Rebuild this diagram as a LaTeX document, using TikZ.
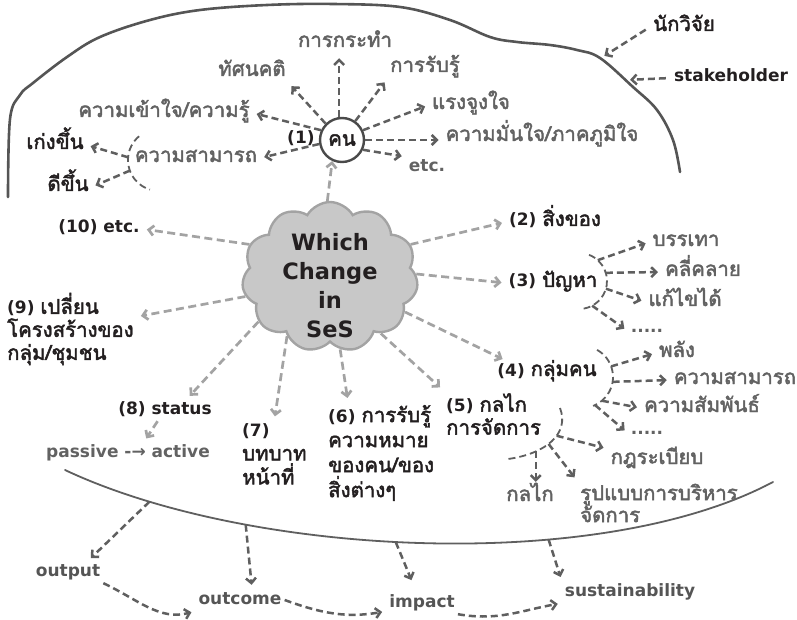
\documentclass[tikz,border=0pt]{standalone}
\usepackage{fontspec}
\setmainfont{DejaVu Sans}
\newfontfamily\thaifont[Script=Thai,Scale=1.2,AutoFakeBold=2.2]{Loma}
\newcommand{\thaitxt}[1]{{\thaifont #1}}
\usetikzlibrary{positioning,shapes.symbols,arrows.meta}
\definecolor{inkdark}{HTML}{231F20}
\definecolor{inkgrey}{HTML}{626262}
\definecolor{arrowdark}{HTML}{5F5F5F}
\definecolor{arrowlight}{HTML}{A3A3A3}
\definecolor{cloudfill}{HTML}{C8C8C8}
\definecolor{cloudedge}{HTML}{A3A3A3}
\definecolor{framegrey}{HTML}{555555}
\definecolor{ringgrey}{HTML}{4A4A4A}
\tikzset{
  word/.style={font=\bfseries\fontsize{17}{24}\selectfont, text=inkdark, inner sep=3pt, text height=12pt, text depth=4pt},
  greyword/.style={word, text=inkgrey},
  dotword/.style={greyword, text height=3pt, text depth=0pt},
  block/.style={font=\bfseries\fontsize{17}{24}\selectfont, text=inkdark, inner sep=3pt, align=left},
  cloudarrow/.style={draw=arrowlight, line width=2.7pt, dash pattern=on 8pt off 4.5pt, -{Straight Barb[length=5pt,width=10pt]}, shorten >=4pt},
  grouparrow/.style={draw=arrowdark, line width=2.5pt, dash pattern=on 7pt off 4pt, -{Straight Barb[length=5pt,width=10pt]}, shorten >=4pt},
  brace/.style={draw=arrowdark, line width=1.8pt, dash pattern=on 7pt off 4pt},
  frame/.style={draw=framegrey, line width=2.6pt, line cap=round},
}

\begin{document}
\begin{tikzpicture}[x=1pt,y=1pt]
\useasboundingbox (0,0) rectangle (797,619);

% outer boundary and the lower curve
\draw[frame] plot[smooth, tension=0.6] coordinates {(8,422) (10,500) (20,524) (33,536) (67,562) (100,582) (150,599) (200,609) (267,614) (333,615) (400,612) (450,599) (490,582) (517,577) (550,574) (577,569) (600,561) (633,532) (657,509) (673,479) (680,447)};
\coordinate (bnda) at (601,561);
\coordinate (bndb) at (626,539);
\draw[frame, line width=1.8pt, draw=arrowdark] (65,149) .. controls (250,62) and (600,45) .. coordinate[pos=0.137] (pout) coordinate[pos=0.272] (pcome) coordinate[pos=0.465] (pimp) coordinate[pos=0.66] (psus) (773,137);

% centre
\node[cloud, cloud puffs=11, cloud puff arc=120, cloud ignores aspect, draw=cloudedge, fill=cloudfill, line width=2.4pt, minimum width=176pt, minimum height=150pt, inner sep=0pt] (ses) at (330,342) {};
\node[font=\bfseries\fontsize{22.5}{29}\selectfont, text=inkdark, align=center] (sestext) at (330,333) {Which\\Change\\in\\SeS};

% (1) people
\node[circle, draw=ringgrey, fill=white, line width=2.4pt, minimum size=44pt, inner sep=0pt, font=\bfseries\fontsize{17}{24}\selectfont, text=inkdark] (kn) at (342,479) {\thaitxt{คน}};
\node[word, left=1pt of kn] (one) {(1)};
\node[greyword] (att) at (252,547) {\thaitxt{ทัศนคติ}};
\node[greyword] (act) at (345,576) {\thaitxt{การกระทำ}};
\node[greyword] (perc) at (425,551) {\thaitxt{การรับรู้}};
\node[greyword] (mot) at (471,514) {\thaitxt{แรงจูงใจ}};
\node[greyword] (conf) at (542,482) {\thaitxt{ความมั่นใจ/ภาคภูมิใจ}};
\node[greyword] (etcone) at (427,451) {etc.};
\node[greyword] (und) at (164,506) {\thaitxt{ความเข้าใจ/ความรู้}};
\node[greyword] (abil) at (196,461) {\thaitxt{ความสามารถ}};
\node[word] (better) at (55,474) {\thaitxt{เก่งขึ้น}};
\node[word] (good) at (68,432) {\thaitxt{ดีขึ้น}};
\draw[grouparrow] (kn.135) -- (att.south east);
\draw[grouparrow] (kn.97) -- (kn.97 |- act.south);
\draw[grouparrow] (kn.55) -- (perc.south west);
\draw[grouparrow] (kn.25) -- (mot.west);
\draw[grouparrow] (kn.east) -- (kn.east -| conf.west);
\draw[grouparrow] (kn.-25) -- (etcone.north west);
\draw[grouparrow] (kn.155) -- (und.east);
\draw[grouparrow] (kn.190) -- (abil.east);
\coordinate (abilc) at (159,459);
\draw[brace] ([shift={(130:31)}]abilc) arc[start angle=130, end angle=253, radius=31];
\draw[grouparrow] ([shift={(175:31)}]abilc) -- (better.east);
\draw[grouparrow] ([shift={(200:31)}]abilc) -- (good.east);

% researcher / stakeholder
\node[word] (researcher) at (684,592) {\thaitxt{นักวิจัย}};
\node[word] (stake) at (731,541) {stakeholder};
\draw[grouparrow, shorten <=5pt] (researcher.west) -- (bnda);
\draw[grouparrow, shorten <=5pt] (stake.west) -- (bndb);

% items around the cloud
\node[word] (etcten) at (99,390) {(10) etc.};
\node[block, anchor=west, font=\bfseries\fontsize{17}{23}\selectfont] (nine) at (4,290) {(9) \thaitxt{เปลี่ยน}\\\thaitxt{โครงสร้างของ}\\\thaitxt{กลุ่ม/ชุมชน}};
\node[word] (status) at (165,209) {(8) status};
\node[greyword] (passive) at (128,166) {passive -→ active};
\node[block, anchor=west] (seven) at (239,165) {(7)\\\thaitxt{บทบาท}\\\thaitxt{หน้าที่}};
\node[block, anchor=west, font=\bfseries\fontsize{17}{25}\selectfont] (six) at (325,166) {(6) \thaitxt{การรับรู้}\\\thaitxt{ความหมาย}\\\thaitxt{ของคน/ของ}\\\thaitxt{สิ่งต่างๆ}};
\node[block, anchor=west, font=\bfseries\fontsize{17}{23}\selectfont] (five) at (443,205) {(5) \thaitxt{กลไก}\\\thaitxt{การจัดการ}};
\node[word] (four) at (547,247) {(4) \thaitxt{กลุ่มคน}};
\node[word] (three) at (553,336) {(3) \thaitxt{ปัญหา}};
\node[word] (two) at (555,397) {(2) \thaitxt{สิ่งของ}};

\draw[cloudarrow, shorten >=0pt] (ses.92) -- (kn.245);
\draw[cloudarrow] (ses.158) -- (etcten.east);
\draw[cloudarrow] (ses.193) -- (nine);
\draw[cloudarrow] (ses.212) -- ([xshift=22pt]status.north);
\draw[cloudarrow] (status) -- ([xshift=16pt]passive.north);
\draw[cloudarrow] (ses.234) -- (seven.north);
\draw[cloudarrow] (ses.278) -- ([xshift=23pt]six.north west);
\draw[cloudarrow] (ses.312) -- (five.north west);
\draw[cloudarrow] (ses.335) -- ([xshift=12pt]four.north west);
\draw[cloudarrow] (ses.2) -- (three.west);
\draw[cloudarrow] (ses.22) -- (two.west);

% (3) problem
\node[greyword] (reduce) at (686,377) {\thaitxt{บรรเทา}};
\node[greyword] (resolve) at (703,347) {\thaitxt{คลี่คลาย}};
\node[greyword] (solve) at (685,317) {\thaitxt{แก้ไขได้}};
\node[dotword] (dotsthree) at (647,288) {.....};
\coordinate (probc) at (579,338);
\draw[brace] ([shift={(69:28)}]probc) arc[start angle=69, end angle=-88, radius=28];
\draw[grouparrow] ([shift={(48:28)}]probc) -- (reduce.west);
\draw[grouparrow] ([shift={(17:28)}]probc) -- (resolve.west);
\draw[grouparrow] ([shift={(-16:28)}]probc) -- (solve.west);
\draw[grouparrow] ([shift={(-62:28)}]probc) -- (dotsthree.west);

% (4) group
\node[greyword] (power) at (677,266) {\thaitxt{พลัง}};
\node[greyword] (gabil) at (735,239) {\thaitxt{ความสามารถ}};
\node[greyword] (rel) at (702,211) {\thaitxt{ความสัมพันธ์}};
\node[dotword] (dotsfour) at (647,186) {.....};
\coordinate (grpc) at (582,242);
\draw[brace] ([shift={(61:31)}]grpc) arc[start angle=61, end angle=-69, radius=31];
\draw[grouparrow] ([shift={(20:31)}]grpc) -- (power.west);
\draw[grouparrow] ([shift={(-9:31)}]grpc) -- (gabil.west);
\draw[grouparrow] ([shift={(-50:31)}]grpc) -- (rel.west);
\draw[grouparrow] ([shift={(-65:31)}]grpc) -- (dotsfour.west);

% (5) mechanism
\node[greyword] (rule) at (657,159) {\thaitxt{กฎระเบียบ}};
\node[block, text=inkgrey, anchor=west, font=\bfseries\fontsize{17}{22}\selectfont] (admin) at (577,116) {\thaitxt{รูปแบบการบริหาร}\\\thaitxt{จัดการ}};
\node[greyword] (mech) at (530,122) {\thaitxt{กลไก}};
\draw[brace] (560,211) .. controls (570,185) and (545,165) .. coordinate[pos=0.4] (fivea) coordinate[pos=0.55] (fiveb) coordinate[pos=0.72] (fivec) (508,160);
\draw[grouparrow] (fivea) -- (rule.north west);
\draw[grouparrow] (fiveb) -- (admin.north west);
\draw[grouparrow] (fivec) -- (fivec |- mech.north);

% results
\node[greyword, text=framegrey] (output) at (68,47) {output};
\node[greyword, text=framegrey] (outcome) at (240,19) {outcome};
\node[greyword, text=framegrey] (impact) at (422,16) {impact};
\node[greyword, text=framegrey] (sus) at (630,27) {sustainability};
\draw[grouparrow] (pout) -- ([xshift=20pt]output.north);
\draw[grouparrow] (pcome) -- ([xshift=12pt]outcome.north);
\draw[grouparrow] (pimp) -- ([shift={(-9pt,8pt)}]impact.north);
\draw[grouparrow] (psus) -- (sus.north west);
\draw[grouparrow] (output.south east) to[out=-25, in=195] (outcome.south west);
\draw[grouparrow] (outcome.east) to[out=-20, in=190] ([yshift=3pt]impact.south west);
\draw[grouparrow] (impact.south east) to[out=-10, in=190] (sus.south west);
\end{tikzpicture}
\end{document}
